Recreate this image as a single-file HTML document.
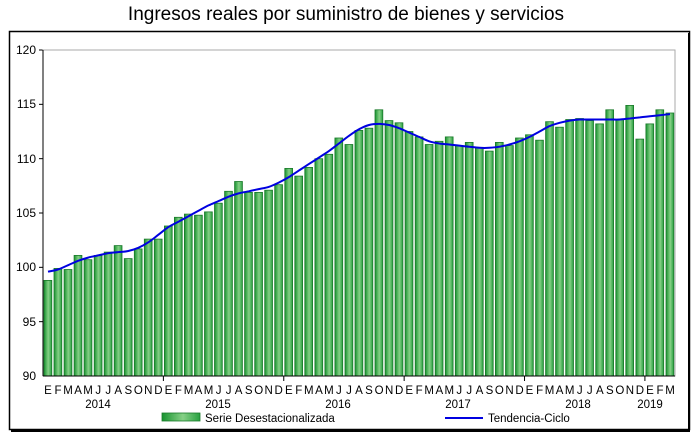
<!DOCTYPE html>
<html><head><meta charset="utf-8"><style>
body{margin:0;background:#fff;width:692px;height:440px;overflow:hidden;font-family:"Liberation Sans",sans-serif}
svg{position:absolute;left:0;top:0}
</style></head><body>
<svg id="s" width="692" height="440" xmlns="http://www.w3.org/2000/svg" font-family="Liberation Sans, sans-serif">
<defs>
<linearGradient id="g" x1="0" x2="1" y1="0" y2="0">
<stop offset="0" stop-color="#17932f"/><stop offset="0.55" stop-color="#86d086"/><stop offset="1" stop-color="#27a040"/>
</linearGradient>
</defs>
<text x="346" y="20" font-size="19" text-anchor="middle" fill="#000">Ingresos reales por suministro de bienes y servicios</text>
<rect x="9.5" y="31.5" width="680" height="398" fill="none" stroke="#000" stroke-width="1.5"/>
<line x1="689" y1="33" x2="689" y2="431" stroke="#000" stroke-width="2"/>
<line x1="11" y1="431" x2="690" y2="431" stroke="#000" stroke-width="2"/>
<g id="grid"></g>
<rect x="43" y="50" width="632" height="326" fill="none" stroke="#aaa" stroke-width="1"/>
<g id="bars"></g>
<path id="trend" fill="none" stroke="#0000e0" stroke-width="2"/>
<line x1="43" y1="50" x2="43" y2="376" stroke="#000"/>
<line x1="43" y1="376" x2="675" y2="376" stroke="#000"/>
<g font-size="12" fill="#000" text-anchor="end">
<text x="36" y="54">120</text><text x="36" y="108">115</text><text x="36" y="163">110</text>
<text x="36" y="217">105</text><text x="36" y="271">100</text><text x="36" y="326">95</text><text x="36" y="380">90</text>
</g>
<g id="months" font-size="11.5" fill="#000" text-anchor="middle"></g>
<g font-size="11.5" fill="#000" text-anchor="middle">
<text x="98" y="408">2014</text><text x="218" y="408">2015</text><text x="338" y="408">2016</text>
<text x="458" y="408">2017</text><text x="578" y="408">2018</text><text x="650" y="408">2019</text>
</g>
<rect x="162" y="413" width="38" height="8" fill="url(#g)" stroke="#1a7a2a" stroke-width="0.8"/>
<text x="205" y="422" font-size="11.5">Serie Desestacionalizada</text>
<line x1="445" y1="418" x2="483" y2="418" stroke="#0000e0" stroke-width="2"/>
<text x="488" y="422" font-size="11.5">Tendencia-Ciclo</text>
</svg>
<script>
var v=[98.8,99.9,99.8,101.1,100.7,101.1,101.4,102.0,100.8,101.7,102.6,102.6,
103.8,104.6,104.9,104.8,105.1,105.9,107.0,107.9,106.9,106.9,107.1,107.6,
109.1,108.4,109.2,110.0,110.4,111.9,111.3,112.6,112.8,114.5,113.5,113.3,
112.5,112.0,111.3,111.6,112.0,111.2,111.5,111.0,110.7,111.5,111.2,111.9,
112.2,111.7,113.4,112.9,113.6,113.7,113.5,113.2,114.5,113.6,114.9,111.8,
113.2,114.5,114.2];
var t=[99.6,99.8,100.2,100.6,100.9,101.1,101.3,101.4,101.5,101.8,102.3,103.0,
103.7,104.2,104.7,105.2,105.7,106.1,106.5,106.8,107.0,107.2,107.4,107.8,
108.3,108.9,109.5,110.1,110.7,111.4,112.1,112.7,113.1,113.2,113.1,112.8,
112.4,112.0,111.6,111.4,111.3,111.2,111.1,111.0,111.0,111.1,111.3,111.6,
112.0,112.5,113.0,113.3,113.5,113.6,113.6,113.6,113.6,113.6,113.7,113.8,
113.9,114.0,114.1];
var NS="http://www.w3.org/2000/svg",X0=43,W=632/63;
function Y(val){return 376-(val-90)*326/30;}
var b=document.getElementById('bars'),P=[];
for(var i=0;i<63;i++){var x=X0+i*W+1,r=document.createElementNS(NS,'rect');
r.setAttribute('x',x.toFixed(1));r.setAttribute('y',Y(v[i]).toFixed(1));r.setAttribute('width',(W-2.2).toFixed(1));
r.setAttribute('height',(376-Y(v[i])).toFixed(1));r.setAttribute('fill','url(#g)');r.setAttribute('stroke','#1a7a2a');r.setAttribute('stroke-width','0.8');b.appendChild(r);
P.push([X0+(i+0.5)*W,Y(t[i])]);}
var d='M'+P[0][0].toFixed(1)+' '+P[0][1].toFixed(1);
for(var i=0;i<P.length-1;i++){var p0=P[Math.max(0,i-1)],p1=P[i],p2=P[i+1],p3=P[Math.min(P.length-1,i+2)];
d+='C'+(p1[0]+(p2[0]-p0[0])/6).toFixed(1)+' '+(p1[1]+(p2[1]-p0[1])/6).toFixed(1)+' '+(p2[0]-(p3[0]-p1[0])/6).toFixed(1)+' '+(p2[1]-(p3[1]-p1[1])/6).toFixed(1)+' '+p2[0].toFixed(1)+' '+p2[1].toFixed(1);}
document.getElementById('trend').setAttribute('d',d);
var g=document.getElementById('grid');
[1,2,3,4,5,6].forEach(function(k){var l=document.createElementNS(NS,'line');l.setAttribute('x1',39);l.setAttribute('x2',43);
var y=376-k*326/6;l.setAttribute('y1',y);l.setAttribute('y2',y);l.setAttribute('stroke','#000');g.appendChild(l);});
[12,24,36,48,60].forEach(function(k){var l=document.createElementNS(NS,'line');var x=X0+k*W;l.setAttribute('x1',x);l.setAttribute('x2',x);
l.setAttribute('y1',376);l.setAttribute('y2',381);l.setAttribute('stroke','#000');g.appendChild(l);});
</script>
<script>
var m="EFMAMJJASOND".split(''),mg=document.getElementById('months');
for(var i=0;i<63;i++){var tx=document.createElementNS("http://www.w3.org/2000/svg",'text');tx.setAttribute('x',(43+(i+0.5)*632/63).toFixed(1));tx.setAttribute('y','394');tx.textContent=m[i%12];mg.appendChild(tx);}
</script>
</body></html>
